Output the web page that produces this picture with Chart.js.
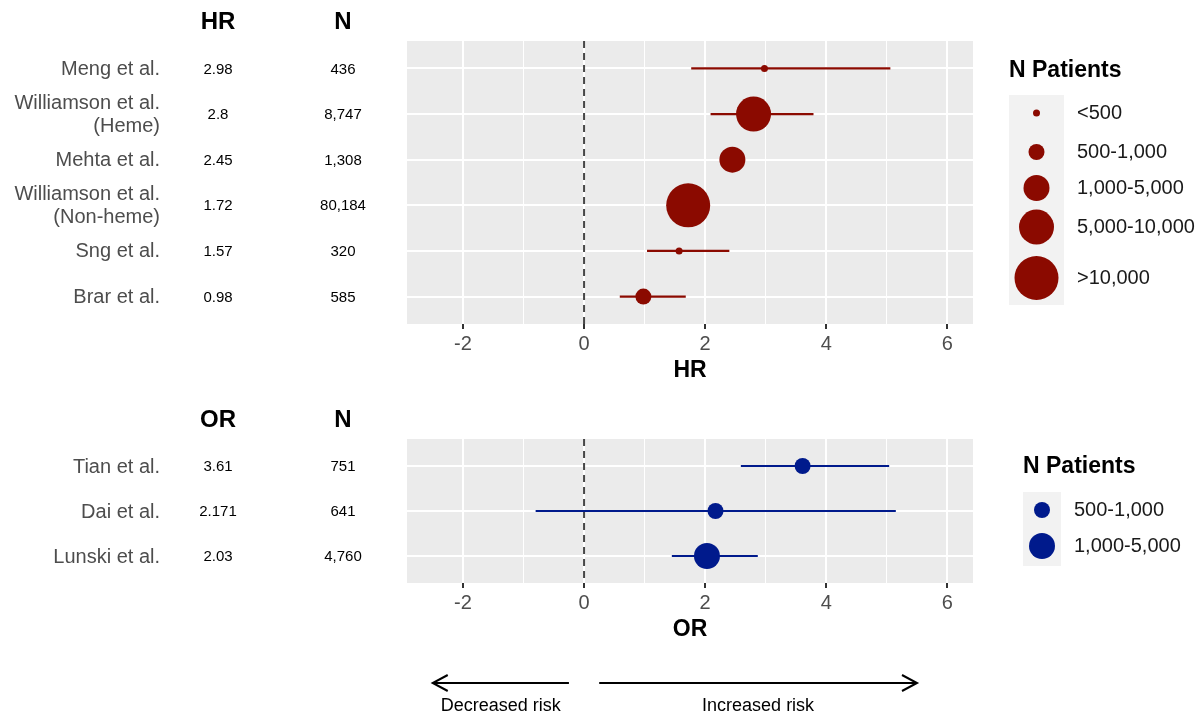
<!DOCTYPE html>
<html>
<head>
<meta charset="utf-8">
<script src="https://cdn.jsdelivr.net/npm/chart.js@4.4.1/dist/chart.umd.min.js"></script>
<style>
    body { margin: 0; background: #fff; width: 1202px; height: 717px; overflow: hidden; position: relative; }
    #hrBox { position: absolute; left: 0; top: 0; }
    #orBox { position: absolute; left: 0; top: 395px; }
</style>
</head>
<body>
<div id="hrBox"><canvas id="hrChart" width="1202" height="395"></canvas></div>
<div id="orBox"><canvas id="orChart" width="1202" height="322"></canvas></div>
<script>
// --- data ---
const hrStudies = ['Meng et al.', 'Williamson et al.\n(Heme)', 'Mehta et al.', 'Williamson et al.\n(Non-heme)', 'Sng et al.', 'Brar et al.'];
const hrValues = [2.98, 2.8, 2.45, 1.72, 1.57, 0.98];
const hrLower = [1.77, 2.09, 2.29, 1.66, 1.04, 0.59];
const hrUpper = [5.06, 3.79, 2.62, 1.78, 2.40, 1.68];
const hrPatients = [436, 8747, 1308, 80184, 320, 585];

const orStudies = ['Tian et al.', 'Dai et al.', 'Lunski et al.'];
const orValues = [3.61, 2.171, 2.03];
const orLower = [2.59, -0.80, 1.45];
const orUpper = [5.04, 5.15, 2.87];
const orPatients = [751, 641, 4760];

const sizeBins = ['<500', '500-1,000', '1,000-5,000', '5,000-10,000', '>10,000'];
const binBreaks = [500, 1000, 5000, 10000];

const xTickValues = [-2, -1, 0, 1, 2, 3, 4, 5, 6];
const xLimits = [-2.925, 6.425];

const riskArrows = [
    { from: -0.25, to: -2.5, label: 'Decreased risk' },
    { from: 0.25, to: 5.5, label: 'Increased risk' }
];

// --- styles ---
const FONT = '"Liberation Sans", Arial, Helvetica, sans-serif';
const binRadius = [3.5, 8, 13, 17.5, 22];
const RED = '#8b0a00';
const BLUE = '#001a8c';

function binOf(n) {
    let b = 0;
    while (b < binBreaks.length && n >= binBreaks[b]) b++;
    return b;
}

function forestPlugin(opt) {
    return {
        id: 'forest',
        beforeDraw(chart) {
            const a = chart.chartArea, ctx = chart.ctx;
            ctx.save();
            ctx.fillStyle = '#ebebeb';
            ctx.fillRect(a.left, a.top, a.right - a.left, a.bottom - a.top);
            ctx.restore();
        },
        afterDraw(chart) {
            const ctx = chart.ctx, ys = chart.scales.y, xs = chart.scales.x;
            ctx.save();
            // column headers
            ctx.fillStyle = '#000';
            ctx.font = 'bold 24px ' + FONT;
            ctx.textAlign = 'center';
            ctx.textBaseline = 'middle';
            ctx.fillText(opt.measure, 218, opt.headerY);
            ctx.fillText('N', 343, opt.headerY);

            // rows
            opt.studies.forEach((name, i) => {
                const y = ys.getPixelForValue(i) + 1;
                const lines = name.split('\n');
                ctx.font = '20px ' + FONT;
                ctx.fillStyle = '#4d4d4d';
                ctx.textAlign = 'right';
                lines.forEach((ln, k) => {
                    ctx.fillText(ln, 160, y + (k - (lines.length - 1) / 2) * 23);
                });
                ctx.font = '15px ' + FONT;
                ctx.fillStyle = '#000';
                ctx.textAlign = 'center';
                ctx.fillText(String(opt.values[i]), 218, y);
                ctx.fillText(opt.patients[i].toLocaleString('en-US'), 343, y);
            });

            // size legend
            const bins = opt.legendBins;
            ctx.textAlign = 'left';
            ctx.font = 'bold 23px ' + FONT;
            ctx.fillStyle = '#000';
            ctx.fillText('N Patients', opt.legend.x, opt.legend.titleY);
            ctx.fillStyle = '#f2f2f2';
            ctx.fillRect(opt.legend.x, opt.legend.keyTop, opt.legend.keyW, opt.legend.keyH);
            bins.forEach((b, k) => {
                const cy = opt.legend.rowY[k];
                ctx.fillStyle = opt.color;
                ctx.beginPath();
                ctx.arc(opt.legend.x + opt.legend.keyW / 2, cy, binRadius[b], 0, Math.PI * 2);
                ctx.fill();
                ctx.fillStyle = '#1a1a1a';
                ctx.font = '20px ' + FONT;
                ctx.fillText(sizeBins[b], opt.legend.x + opt.legend.keyW + 13, cy);
            });

            // risk arrows
            if (opt.arrows) {
                ctx.strokeStyle = '#000';
                ctx.fillStyle = '#000';
                ctx.lineWidth = 2;
                opt.arrows.forEach(ar => {
                    const x0 = xs.getPixelForValue(ar.from), x1 = xs.getPixelForValue(ar.to);
                    const y = opt.arrowY, dir = Math.sign(x1 - x0);
                    ctx.beginPath();
                    ctx.moveTo(x0, y);
                    ctx.lineTo(x1, y);
                    ctx.moveTo(x1 - dir * 15, y - 8);
                    ctx.lineTo(x1, y);
                    ctx.lineTo(x1 - dir * 15, y + 8);
                    ctx.stroke();
                    ctx.font = '18px ' + FONT;
                    ctx.textAlign = 'center';
                    ctx.fillText(ar.label, (x0 + x1) / 2, y + 23);
                });
            }
            ctx.restore();
        }
    };
}

function makeForest(canvasId, o) {
    const n = o.studies.length;
    const datasets = [];
    datasets.push({
        data: [{ x: 0, y: -0.6 }, { x: 0, y: n - 0.4 }],
        showLine: true, pointRadius: 0, borderColor: '#474747', borderWidth: 2,
        borderDash: [7, 5], order: 3
    });
    o.studies.forEach((s, i) => {
        datasets.push({
            data: [{ x: o.lower[i], y: i }, { x: o.upper[i], y: i }],
            showLine: true, pointRadius: 0, borderColor: o.color, borderWidth: 2.2, order: 2
        });
    });
    datasets.push({
        data: o.values.map((v, i) => ({ x: v, y: i })),
        pointRadius: o.patients.map(p => binRadius[binOf(p)]),
        backgroundColor: o.color, borderWidth: 0, order: 1
    });

    return new Chart(document.getElementById(canvasId), {
        type: 'scatter',
        data: { datasets },
        plugins: [forestPlugin(o)],
        options: {
            responsive: false,
            animation: false,
            events: [],
            layout: { padding: o.padding },
            plugins: { legend: { display: false }, tooltip: { enabled: false } },
            scales: {
                x: {
                    type: 'linear', min: xLimits[0], max: xLimits[1],
                    afterBuildTicks: s => { s.ticks = xTickValues.map(v => ({ value: v })); },
                    afterFit: s => { s.height = 60; },
                    border: { display: false },
                    grid: {
                        color: '#ffffff',
                        lineWidth: c => (c.tick && c.tick.value % 2 === 0) ? 2 : 1,
                        tickColor: c => (c.tick && c.tick.value % 2 === 0) ? '#333333' : 'rgba(0,0,0,0)',
                        tickLength: 5, tickWidth: 2
                    },
                    ticks: {
                        autoSkip: false, maxRotation: 0, padding: 3, color: '#4d4d4d',
                        font: { size: 20, family: FONT },
                        callback: v => (v % 2 === 0 ? String(v) : '')
                    },
                    title: { display: true, text: o.measure, color: '#000', padding: 0, font: { size: 23, weight: 'bold', family: FONT } }
                },
                y: {
                    type: 'linear', min: -0.6, max: n - 0.4, reverse: true,
                    afterBuildTicks: s => { s.ticks = o.studies.map((_, i) => ({ value: i })); },
                    afterFit: s => { s.width = 0; },
                    border: { display: false },
                    grid: { color: '#ffffff', lineWidth: 2, drawTicks: false },
                    ticks: { display: false }
                }
            }
        }
    });
}

makeForest('hrChart', {
    measure: 'HR', studies: hrStudies, values: hrValues, lower: hrLower, upper: hrUpper,
    patients: hrPatients, color: RED, headerY: 22,
    padding: { left: 407, right: 229, top: 41, bottom: 11 },
    legendBins: [0, 1, 2, 3, 4],
    legend: { x: 1009, titleY: 71, keyTop: 95, keyW: 55, keyH: 210, rowY: [113, 152, 188, 227, 278] }
});

makeForest('orChart', {
    measure: 'OR', studies: orStudies, values: orValues, lower: orLower, upper: orUpper,
    patients: orPatients, color: BLUE, headerY: 25,
    padding: { left: 407, right: 229, top: 44, bottom: 74 },
    legendBins: [...new Set(orPatients.map(binOf))].sort(),
    legend: { x: 1023, titleY: 72, keyTop: 97, keyW: 38, keyH: 74, rowY: [115, 151] },
    arrows: riskArrows, arrowY: 288
});
</script>
</body>
</html>
